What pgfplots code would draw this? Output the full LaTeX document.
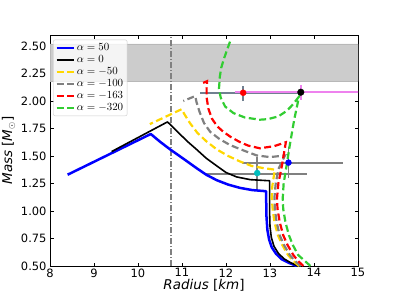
\documentclass[border=0pt]{standalone}
\usepackage{fontspec}
\setmainfont{DejaVu Sans}
\usepackage{pgfplots}
\pgfplotsset{compat=1.18}
\definecolor{gold}{HTML}{FFD700}
\definecolor{lgreen}{HTML}{32CD32}
\definecolor{slategray}{HTML}{708090}
\definecolor{violetc}{HTML}{EE82EE}
\definecolor{cyanc}{HTML}{00BFBF}
\definecolor{midgray}{HTML}{808080}
\begin{document}
\begin{tikzpicture}
\begin{axis}[name=ax, scale only axis, width=308bp, height=231bp,
  xmin=8, xmax=15, ymin=0.5, ymax=2.6,
  xtick={8,9,10,11,12,13,14,15},
  ytick={0.5,0.75,1,1.25,1.5,1.75,2,2.25,2.5},
  scaled ticks=false,
  /pgf/number format/assume math mode=true,
  yticklabel style={/pgf/number format/.cd, fixed, fixed zerofill, precision=2},
  ticklabel style={font=\fontsize{11.5}{12}\selectfont},
  xticklabel style={yshift=1bp},
  tick align=inside, major tick length=3.5bp,
  tick style={black, line width=0.8bp},
  axis line style={black, line width=0.8bp},
  xlabel={\textit{Radius} [\textit{km}]},
  ylabel={\textit{Mass} [\textit{M}$_\odot$]},
  label style={font=\fontsize{13.5}{14}\selectfont},
  xlabel style={at={(axis description cs:0.5,-0.085)}, anchor=center},
  ylabel style={at={(axis description cs:-0.1347,0.5)}, anchor=center},
  legend style={at={(0.01,0.98)}, anchor=north west, draw=black!20, rounded corners=2pt,
    fill=white, fill opacity=0.8, text opacity=1, font=\fontsize{10.5}{11}\selectfont,
    row sep=-0.6bp, inner sep=2bp},
  legend cell align=left,
  clip=true,
]
% shaded band
\addplot[fill=black!20, draw=black!28, line width=0.6bp, forget plot] coordinates {(8,2.18) (15,2.18) (15,2.52) (8,2.52) (8,2.18)};
% vertical dash-dot line
\addplot[midgray, line width=1.1bp, dash pattern=on 6bp off 2bp on 1bp off 2bp, forget plot] coordinates {(10.75,0.5) (10.75,2.6)};
% error bars
\addplot[midgray, line width=1.8bp, forget plot] coordinates {(11.52,1.34) (13.85,1.34)};
\addplot[midgray, line width=1.8bp, forget plot] coordinates {(12.71,1.18) (12.71,1.49)};
\addplot[midgray, line width=1.8bp, forget plot] coordinates {(12.36,1.44) (14.66,1.44)};
\addplot[midgray, line width=1.8bp, forget plot] coordinates {(13.42,1.30) (13.42,1.58)};
\addplot[slategray, line width=2bp, forget plot] coordinates {(11.41,2.072) (13.69,2.072)};
\addplot[slategray, line width=2bp, forget plot] coordinates {(12.39,2.00) (12.39,2.14)};
\addplot[violetc, line width=1.8bp, forget plot] coordinates {(12.2,2.08) (16.3,2.08)};
\addplot[violetc, line width=1.8bp, forget plot] coordinates {(13.7,2.01) (13.7,2.15)};
% curves
\addplot[blue, line width=2.5bp, line join=round] coordinates {
(13.61,0.50)(13.42,0.53)(13.27,0.56)(13.14,0.61)(13.04,0.67)(12.98,0.74)(12.94,0.83)(12.92,0.95)(12.91,1.18)
(12.60,1.19)(12.32,1.21)(12.05,1.24)(11.79,1.28)(11.55,1.33)(11.33,1.39)(11.05,1.47)(10.73,1.56)(10.50,1.63)(10.29,1.70)
(8.40,1.33)};
\addlegendentry{$\alpha=50$}
\addplot[black, line width=1.6bp, line join=round] coordinates {
(13.64,0.50)(13.47,0.53)(13.32,0.565)(13.19,0.615)(13.09,0.68)(13.03,0.76)(13.00,0.86)(12.99,1.00)(12.99,1.275)
(12.55,1.285)(12.24,1.31)(12.00,1.35)(11.79,1.41)(11.55,1.48)(11.33,1.56)(11.13,1.63)(10.95,1.70)(10.80,1.76)(10.67,1.81)
(9.40,1.54)};
\addlegendentry{$\alpha=0$}
\addplot[gold, line width=2.2bp, dash pattern=on 7bp off 3.5bp] coordinates {
(13.66,0.50)(13.53,0.545)(13.41,0.60)(13.28,0.69)(13.18,0.78)(13.10,0.90)(13.06,1.02)(13.04,1.12)(13.05,1.22)(13.11,1.376)
(12.85,1.39)(12.58,1.41)(12.32,1.45)(12.05,1.50)(11.79,1.56)(11.55,1.635)(11.35,1.71)(11.18,1.80)(11.07,1.87)(10.99,1.925)
(10.27,1.79)};
\addlegendentry{$\alpha=-50$}
\addplot[midgray, line width=2.2bp, dash pattern=on 7bp off 3.5bp] coordinates {
(13.70,0.50)(13.57,0.545)(13.45,0.60)(13.32,0.69)(13.22,0.78)(13.15,0.90)(13.11,1.02)(13.10,1.12)(13.13,1.25)(13.19,1.38)(13.34,1.505)
(13.00,1.49)(12.70,1.505)(12.40,1.55)(12.09,1.60)(11.85,1.655)(11.64,1.72)(11.50,1.80)(11.40,1.90)(11.33,1.99)(11.30,2.045)
(11.03,2.00)};
\addlegendentry{$\alpha=-100$}
\addplot[red, line width=2.2bp, dash pattern=on 7bp off 3.5bp] coordinates {
(13.76,0.50)(13.64,0.545)(13.53,0.60)(13.40,0.69)(13.30,0.78)(13.22,0.90)(13.17,1.02)(13.16,1.12)(13.19,1.25)(13.27,1.41)(13.36,1.625)
(13.10,1.59)(12.77,1.57)(12.50,1.595)(12.30,1.63)(12.10,1.675)(11.94,1.72)(11.80,1.77)(11.68,1.84)(11.60,1.93)(11.56,2.03)(11.56,2.12)(11.57,2.18)
(11.48,2.165)};
\addlegendentry{$\alpha=-163$}
\addplot[lgreen, line width=2.2bp, dash pattern=on 7bp off 3.5bp] coordinates {
(13.92,0.50)(13.78,0.55)(13.64,0.60)(13.52,0.69)(13.43,0.78)(13.35,0.90)(13.30,1.02)(13.29,1.12)(13.31,1.25)(13.38,1.42)(13.45,1.60)(13.55,1.83)(13.66,2.04)
(13.50,1.96)(13.38,1.91)(13.19,1.86)(12.95,1.835)(12.77,1.83)(12.43,1.85)(12.17,1.89)(11.98,1.95)(11.88,2.03)(11.84,2.11)(11.86,2.22)(11.89,2.30)(11.95,2.38)(12.02,2.46)(12.10,2.55)};
\addlegendentry{$\alpha=-320$}
% markers
\addplot[only marks, mark=*, mark size=3bp, cyanc, forget plot] coordinates {(12.71,1.345)};
\addplot[only marks, mark=*, mark size=3bp, blue, forget plot] coordinates {(13.42,1.44)};
\addplot[only marks, mark=*, mark size=3bp, red, forget plot] coordinates {(12.39,2.075)};
\addplot[only marks, mark=*, mark size=3.3bp, black, forget plot] coordinates {(13.70,2.08)};
\end{axis}
\pgfresetboundingbox
\useasboundingbox ([xshift=-50bp,yshift=-33bp]ax.south west) rectangle ([xshift=41bp,yshift=35bp]ax.north east);
\end{tikzpicture}
\end{document}
